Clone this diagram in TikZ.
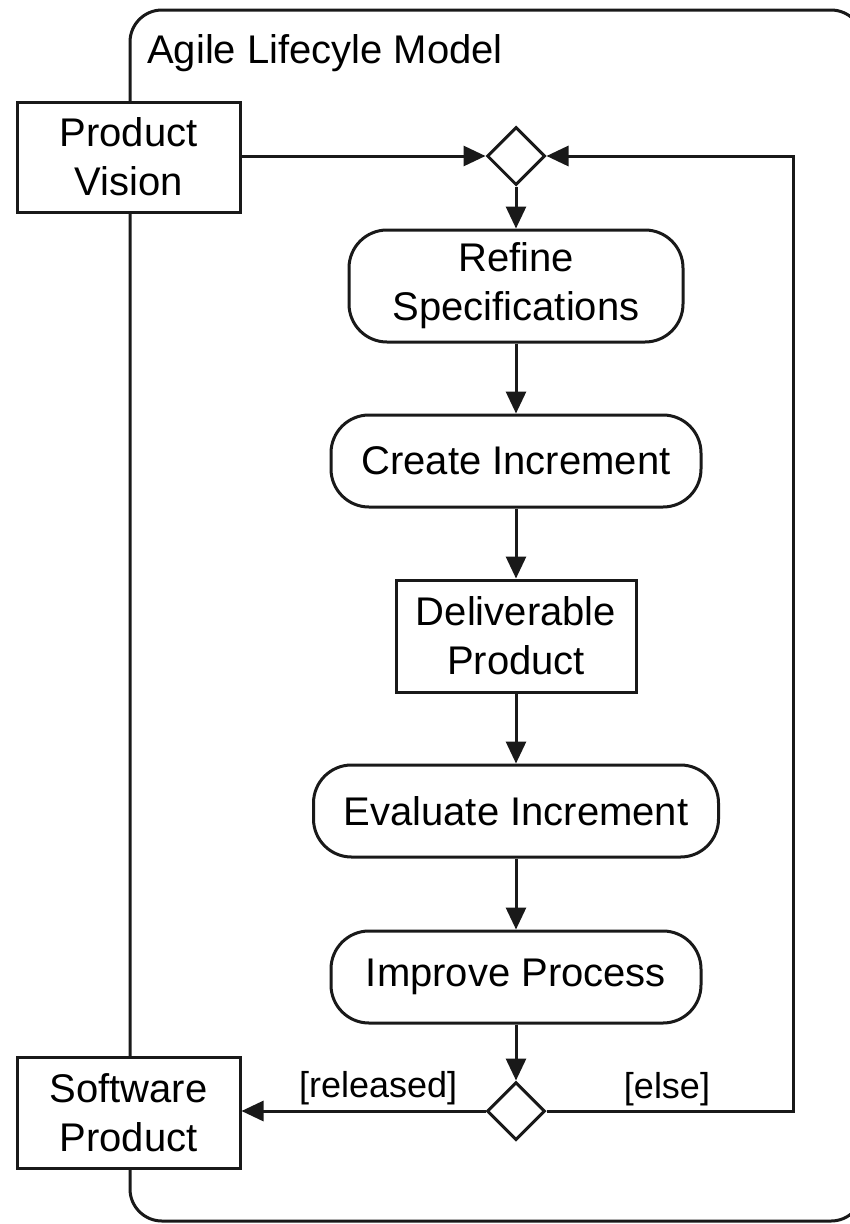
\documentclass[tikz,border=0pt]{standalone}
\usepackage{fontspec}
\setmainfont{Liberation Sans}
\usetikzlibrary{shapes.geometric,arrows.meta}
\begin{document}
\begin{tikzpicture}[x=1pt,y=-1pt,
  lw/.style={line width=3pt},
  txt/.style={font=\fontsize{40}{49}\selectfont, text=black},
  objbox/.style={lw, draw=black!90, fill=white, rectangle, align=center, inner sep=0pt, txt},
  actbox/.style={lw, draw=black!90, fill=white, rectangle, rounded corners=38pt, align=center, inner sep=0pt, txt},
  decis/.style={lw, draw=black!90, fill=white, diamond, aspect=1, inner sep=0pt, minimum width=58pt, minimum height=58pt},
  arr/.style={lw, draw=black!90, -{Triangle[length=22pt,width=20pt]}},
  guard/.style={font=\fontsize{36}{42}\selectfont, text=black, inner sep=5pt}
]
\useasboundingbox (0,0) rectangle (850,1224);
\fill[white] (0,0) rectangle (850,1224);
\begin{scope}
  \clip (0,0) rectangle (850,1224);
  \draw[lw, draw=black!90, rounded corners=32pt] (130,10) rectangle (863,1221);
\end{scope}
\node[anchor=base west, txt, inner sep=0pt] (title) at (147,63) {Agile Lifecyle Model};

\node[objbox, minimum width=223pt, minimum height=110pt] (pv) at (128.5,157) {Product\\Vision};
\node[objbox, minimum width=223pt, minimum height=111pt] (sp) at (128.5,1113) {Software\\Product};

\node[decis] (d1) at (516,156) {};
\node[actbox, minimum width=334pt, minimum height=112pt] (rs) at (516,286) {Refine\\Specifications};
\node[actbox, minimum width=370pt, minimum height=92pt] (ci) at (516,461) {Create Increment};
\node[objbox, minimum width=240pt, minimum height=112pt] (dp) at (516,636) {Deliverable\\Product};
\node[actbox, minimum width=405pt, minimum height=92pt] (ei) at (516,811) {Evaluate Increment};
\node[actbox, minimum width=370pt, minimum height=92pt] (ip) at (516,977) {Improve Process};
\node[decis] (d2) at (516,1111) {};
\coordinate (rc) at (793,1111);

\draw[arr] (pv.east |- d1.west) -- (d1.west);
\draw[arr] (d2.east) -- (rc) |- (d1.east);
\draw[arr] (d1.south) -- (rs.north);
\draw[arr] (rs.south) -- (ci.north);
\draw[arr] (ci.south) -- (dp.north);
\draw[arr] (dp.south) -- (ei.north);
\draw[arr] (ei.south) -- (ip.north);
\draw[arr] (ip.south) -- (d2.north);
\draw[arr] (d2.west) -- (sp.east |- d2.west) node[guard, pos=0.44, above] (lrel) {[released]};
\node[guard, above] (lelse) at (667,1111) {[else]};
\end{tikzpicture}
\end{document}
